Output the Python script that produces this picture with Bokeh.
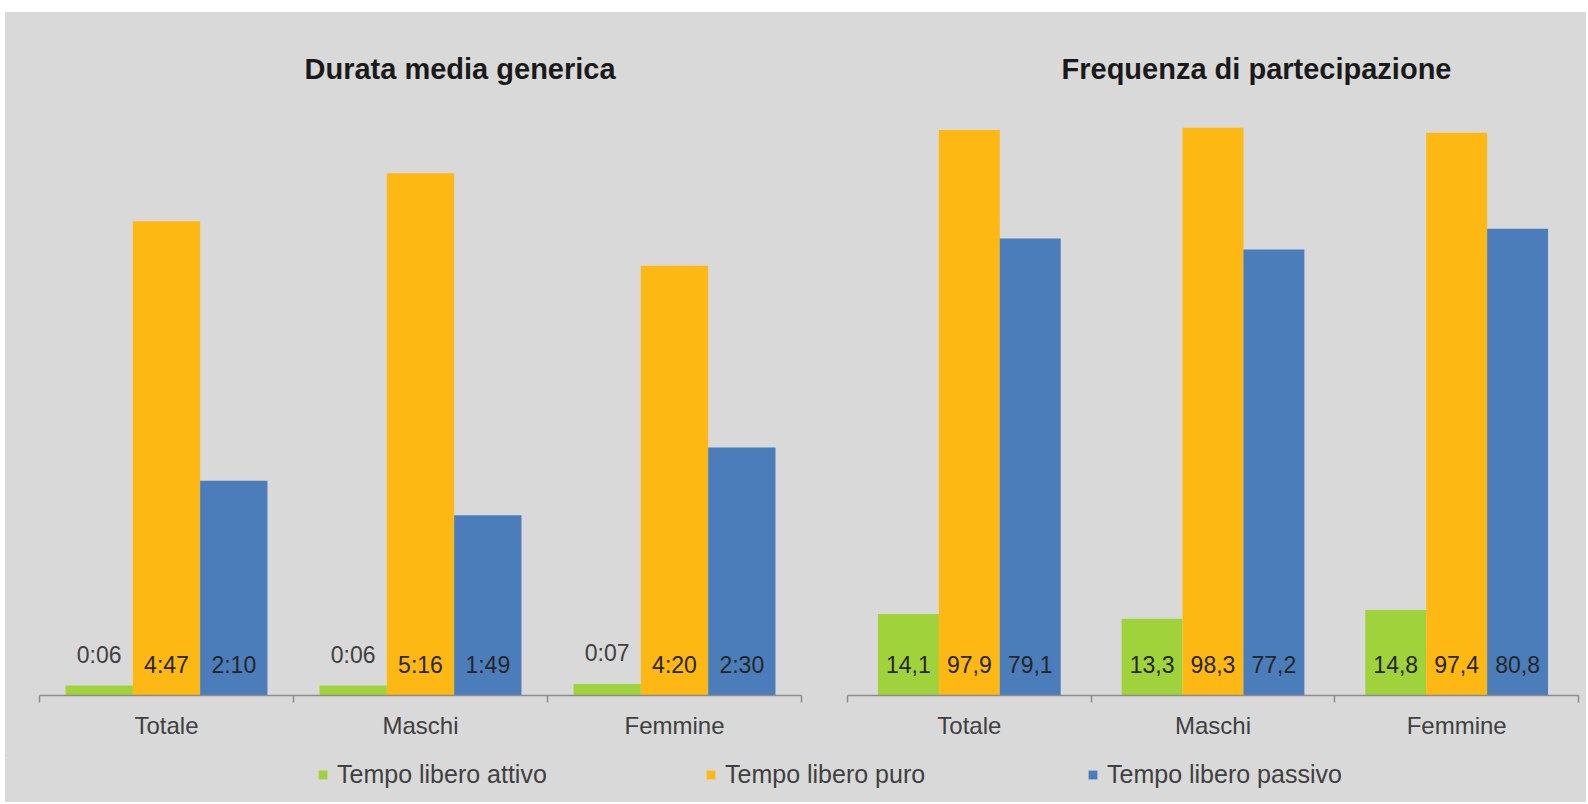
import numpy as np
from bokeh.plotting import figure
from bokeh.models import ColumnDataSource, FixedTicker, Range1d, Legend, LegendItem, Title
from bokeh.layouts import row, column
from bokeh.embed import file_html
from bokeh.resources import INLINE
from bokeh.core.properties import value

# ---------------- data ----------------
categories = ["Totale", "Maschi", "Femmine"]
series = ["Tempo libero attivo", "Tempo libero puro", "Tempo libero passivo"]

# Durata media generica (minutes)
durata_attivo = [6, 6, 7]
durata_puro = [287, 316, 260]
durata_passivo = [130, 109, 150]

# Frequenza di partecipazione (%)
freq_attivo = [14.1, 13.3, 14.8]
freq_puro = [97.9, 98.3, 97.4]
freq_passivo = [79.1, 77.2, 80.8]

titles = ["Durata media generica", "Frequenza di partecipazione"]

# ---------------- style ----------------
BG = "#D9D9D9"
FONT = "Liberation Sans"
COLORS = ["#A0D23C", "#FDB813", "#4A7DBA"]
AXIS_COL = "#8C8C8C"
TEXT_COL = "#404040"

FRAME_H = 595
TOP = 88
BOTTOM = 60
TOTAL_W = 1581
LEG_H = 47


def fmt_time(m):
    return f"{m // 60}:{m % 60:02d}"


def fmt_pct(v):
    return f"{v:.1f}".replace(".", ",")


def make_panel(frame_w, left, right, ymax, groups, fmt, bar_w, first_outside,
               title, title_offset):
    p = figure(frame_width=frame_w, frame_height=FRAME_H, output_backend="svg",
               toolbar_location=None,
               x_range=Range1d(0, len(categories)), y_range=Range1d(0, ymax),
               y_axis_location=None,
               min_border_left=left, min_border_right=right,
               min_border_top=TOP, min_border_bottom=BOTTOM,
               background_fill_alpha=0, border_fill_alpha=0,
               outline_line_color=None)
    p.title = Title(text=title, align="left", offset=title_offset, standoff=31,
                    text_font=FONT, text_font_size="29px", text_font_style="bold",
                    text_color="#1A1A1A")
    p.xgrid.visible = False
    p.ygrid.visible = False

    centers = np.arange(len(categories)) + 0.5
    sources = []
    for i, vals in enumerate(groups):
        off = (i - 1) * bar_w
        vals = list(vals)
        if i == 0 and first_outside:
            ly = vals
        else:
            ly = [0] * len(vals)
        src = ColumnDataSource(dict(x=centers + off, top=vals, ly=ly,
                                    label=[fmt(v) for v in vals]))
        sources.append(src)
        p.vbar(x="x", top="top", width=bar_w, bottom=0, source=src,
               fill_color=COLORS[i], line_color=None)
        tcol = TEXT_COL if (i == 0 and first_outside) else "#262626"
        p.text(x="x", y="ly", text="label", source=src, text_align="center",
               text_baseline="middle", y_offset=-31, text_font=value(FONT),
               text_font_size="23px", text_color=tcol)

    ax = p.xaxis[0]
    ax.ticker = FixedTicker(ticks=list(centers), minor_ticks=list(range(len(categories) + 1)))
    ax.major_label_overrides = {float(c): cat for c, cat in zip(centers, categories)}
    ax.major_tick_line_color = None
    ax.major_tick_out = 0
    ax.major_tick_in = 0
    ax.minor_tick_line_color = AXIS_COL
    ax.minor_tick_line_width = 1.5
    ax.minor_tick_out = 7
    ax.minor_tick_in = 0
    ax.axis_line_color = AXIS_COL
    ax.axis_line_width = 1.5
    ax.major_label_standoff = 9
    ax.major_label_text_font = FONT
    ax.major_label_text_font_size = "24px"
    ax.major_label_text_color = TEXT_COL
    return p, sources


# left panel
p1, s1 = make_panel(762, 34, 23, 360,
                    [durata_attivo, durata_puro, durata_passivo], fmt_time, 0.265, True,
                    titles[0], 265)
# right panel
p2, s2 = make_panel(731, 23, 8, 103,
                    [freq_attivo, freq_puro, freq_passivo], fmt_pct, 0.25, False,
                    titles[1], 214)

# legend strip: a figure whose frame holds only the legend; its bar renderers
# reference the same data but lie far outside its ranges, so only swatches show
p3 = figure(frame_width=TOTAL_W, frame_height=LEG_H, output_backend="svg",
            toolbar_location=None, x_range=Range1d(1000, 1001), y_range=Range1d(-1000, -999),
            x_axis_location=None, y_axis_location=None, min_border=0,
            background_fill_alpha=0, border_fill_alpha=0, outline_line_color=None)
p3.xgrid.visible = False
p3.ygrid.visible = False
leg_rends = [p3.vbar(x="x", top="top", width=0.1, bottom=0, source=s,
                     fill_color=COLORS[i], line_color=None)
             for i, s in enumerate(s1)]

for lab, rend, lx in zip(series, leg_rends, [312, 700, 1082]):
    leg = Legend(items=[LegendItem(label=lab, renderers=[rend])], location=(lx, 13),
                 orientation="horizontal", padding=0, margin=0, spacing=0,
                 border_line_alpha=0, background_fill_alpha=0,
                 label_text_font=FONT, label_text_font_size="25px",
                 label_text_color=TEXT_COL, glyph_width=11, glyph_height=11,
                 label_standoff=9)
    p3.add_layout(leg, "center")

layout = column(row(p1, p2, spacing=0), p3, spacing=0, margin=(12, 0, 0, 5),
                styles={"background-color": BG})
open("out.html", "w").write(file_html(layout, INLINE))
